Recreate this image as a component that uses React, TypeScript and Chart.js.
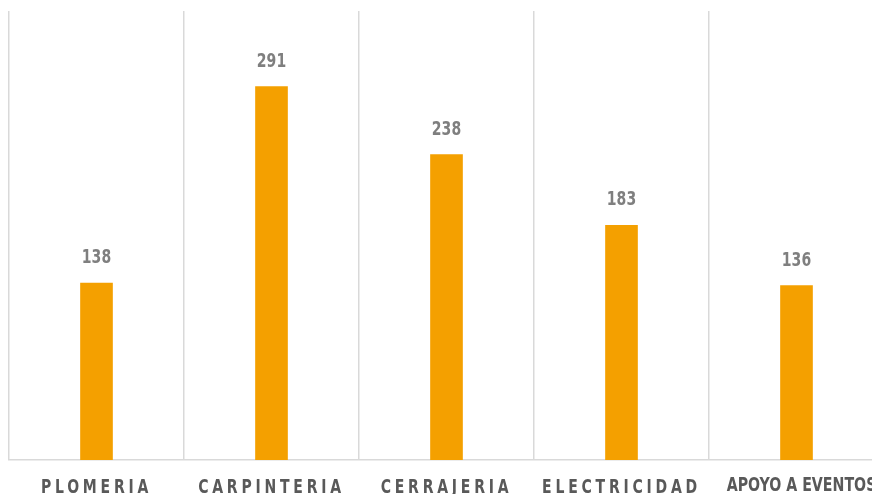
import React, { useEffect, useRef } from "react";
import { Chart, registerables } from "chart.js";

Chart.register(...registerables);

const categories = ["PLOMERIA", "CARPINTERIA", "CERRAJERIA", "ELECTRICIDAD", "APOYO A EVENTOS"];
const values = [138, 291, 238, 183, 136];
const yMin = 0;
const yMax = 350;

const FONT = "'DejaVu Sans Condensed', 'DejaVu Sans', sans-serif";

function drawNarrow(
  ctx: CanvasRenderingContext2D,
  text: string,
  x: number,
  y: number,
  font: string,
  sx: number,
  spacing: number
) {
  ctx.save();
  ctx.translate(x, y);
  ctx.scale(sx, 1);
  ctx.font = font;
  (ctx as any).letterSpacing = spacing + "px";
  ctx.textAlign = "center";
  ctx.textBaseline = "alphabetic";
  ctx.fillText(text, 0, 0);
  ctx.restore();
}

const labelPlugin = {
  id: "customLabels",
  afterDraw(chart: any) {
    const ctx = chart.ctx as CanvasRenderingContext2D;
    const meta = chart.getDatasetMeta(0);
    const xScale = chart.scales.x;
    const area = chart.chartArea;
    ctx.save();
    ctx.fillStyle = "#7f7f7f";
    meta.data.forEach((el: any, i: number) => {
      drawNarrow(ctx, String(values[i]), el.x, el.y - 20, `bold 19px ${FONT}`, 0.82, 0);
    });
    ctx.fillStyle = "#595959";
    categories.forEach((c, i) => {
      const x = xScale.getPixelForValue(i);
      const spaced = i < categories.length - 1;
      if (spaced) {
        drawNarrow(ctx, c, x, area.bottom + 33, `bold 19px ${FONT}`, 0.82, 4.6);
      } else {
        drawNarrow(ctx, c, x + 5, area.bottom + 31, `bold 19px ${FONT}`, 0.83, 0);
      }
    });
    ctx.restore();
  },
};

export default function App() {
  const ref = useRef<HTMLCanvasElement>(null);
  useEffect(() => {
    if (!ref.current) return;
    const chart = new Chart(ref.current, {
      type: "bar",
      data: {
        labels: categories,
        datasets: [
          {
            data: values,
            backgroundColor: "#F4A000",
            borderWidth: 0,
            barThickness: 32,
          },
        ],
      },
      options: {
        responsive: false,
        animation: false,
        devicePixelRatio: 1,
        layout: { padding: { left: 9, top: 11, right: 6, bottom: 34 } },
        plugins: {
          legend: { display: false },
          tooltip: { enabled: false },
          title: { display: false },
        },
        scales: {
          x: {
            display: true,
            grid: {
              display: true,
              offset: true,
              color: "#d9d9d9",
              lineWidth: 1.5,
              drawTicks: false,
            },
            border: { display: true, color: "#d9d9d9", width: 1.5 },
            ticks: { display: false },
            afterFit: (s: any) => {
              s.height = 0;
            },
          },
          y: {
            display: false,
            min: yMin,
            max: yMax,
          },
        },
      },
      plugins: [labelPlugin],
    });
    return () => chart.destroy();
  }, []);
  return (
    <div style={{ position: "fixed", left: 0, top: 0, width: 872, height: 494, overflow: "hidden", background: "#fff" }}>
      <canvas ref={ref} width={890} height={494} style={{ width: 890, height: 494, display: "block" }} />
    </div>
  );
}
